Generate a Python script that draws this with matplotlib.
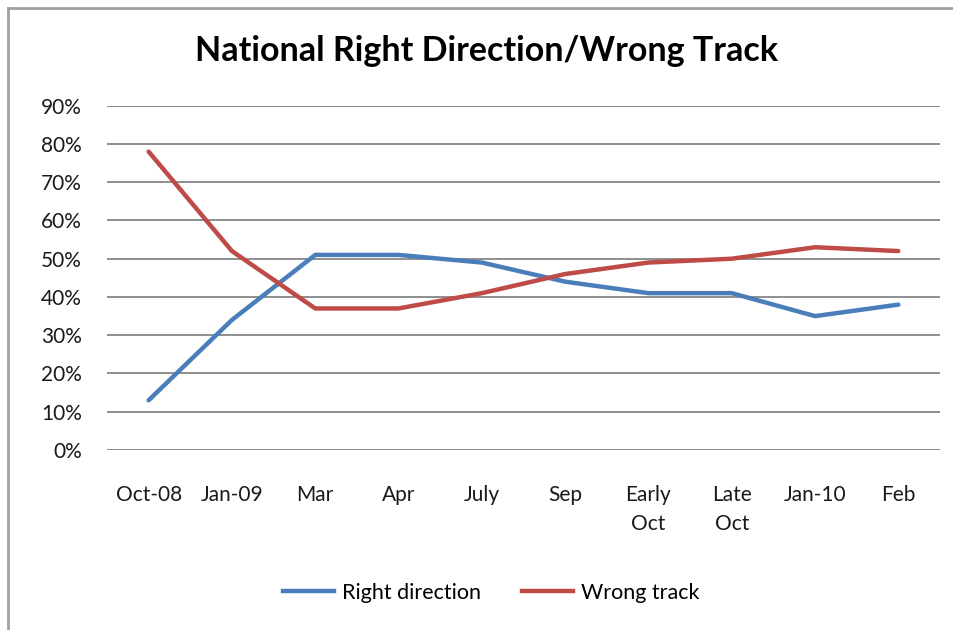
import matplotlib
matplotlib.use('Agg')
import matplotlib.pyplot as plt
from matplotlib.lines import Line2D

# categories and series values (%)
categories = ['Oct-08', 'Jan-09', 'Mar', 'Apr', 'July', 'Sep',
              'Early\nOct', 'Late\nOct', 'Jan-10', 'Feb']
right_direction = [13, 34, 51, 51, 49, 44, 41, 41, 35, 38]
wrong_track = [78, 52, 37, 37, 41, 46, 49, 50, 53, 52]
y_ticks = [0, 10, 20, 30, 40, 50, 60, 70, 80, 90]

blue = '#4A7EBB'
red = '#BE4B48'
plt.rcParams['font.family'] = ['Lato', 'DejaVu Sans']

fig = plt.figure(figsize=(9.54, 6.3), dpi=100)
ax = fig.add_axes([107/954, 1-450/630, (940-107)/954, (450-105.7)/630])

x = list(range(len(categories)))
ax.plot(x, right_direction, color=blue, linewidth=3.2, label='Right direction',
        solid_joinstyle='round', solid_capstyle='round', zorder=3)
ax.plot(x, wrong_track, color=red, linewidth=3.2, label='Wrong track',
        solid_joinstyle='round', solid_capstyle='round', zorder=3)

ax.set_xlim(-0.5, len(categories) - 0.5)
ax.set_ylim(0, 90)
ax.set_yticks(y_ticks)
ax.set_yticklabels([f'{v}%' for v in y_ticks])
ax.set_xticks(x)
ax.set_xticklabels(categories, linespacing=1.6, va='top')
ax.tick_params(axis='both', length=0, labelsize=15, colors='#1a1a1a')
ax.tick_params(axis='y', pad=18)
ax.tick_params(axis='x', pad=25)
ax.grid(axis='y', color='#868686', linewidth=1.3)
ax.set_axisbelow(True)
for s in ax.spines.values():
    s.set_visible(False)

fig.text(487/954, 1-51/630, 'National Right Direction/Wrong Track',
         ha='center', va='center', fontsize=24.5, fontweight='bold')

handles = [Line2D([], [], color=blue, linewidth=3.2),
           Line2D([], [], color=red, linewidth=3.2)]
fig.legend(handles, ['Right direction', 'Wrong track'], loc='center',
           bbox_to_anchor=(491/954, 1-593/630), ncol=2, frameon=False,
           fontsize=15.5, handlelength=2.4, handletextpad=0.35, columnspacing=1.9)

# outer chart frame (top and left edges visible)
fig.add_artist(Line2D([8/954, 1], [1-8/630, 1-8/630], color='#A0A0A0', linewidth=2))
fig.add_artist(Line2D([8/954, 8/954], [0, 1-8/630], color='#A0A0A0', linewidth=2))

fig.savefig('out.png', dpi=100)
